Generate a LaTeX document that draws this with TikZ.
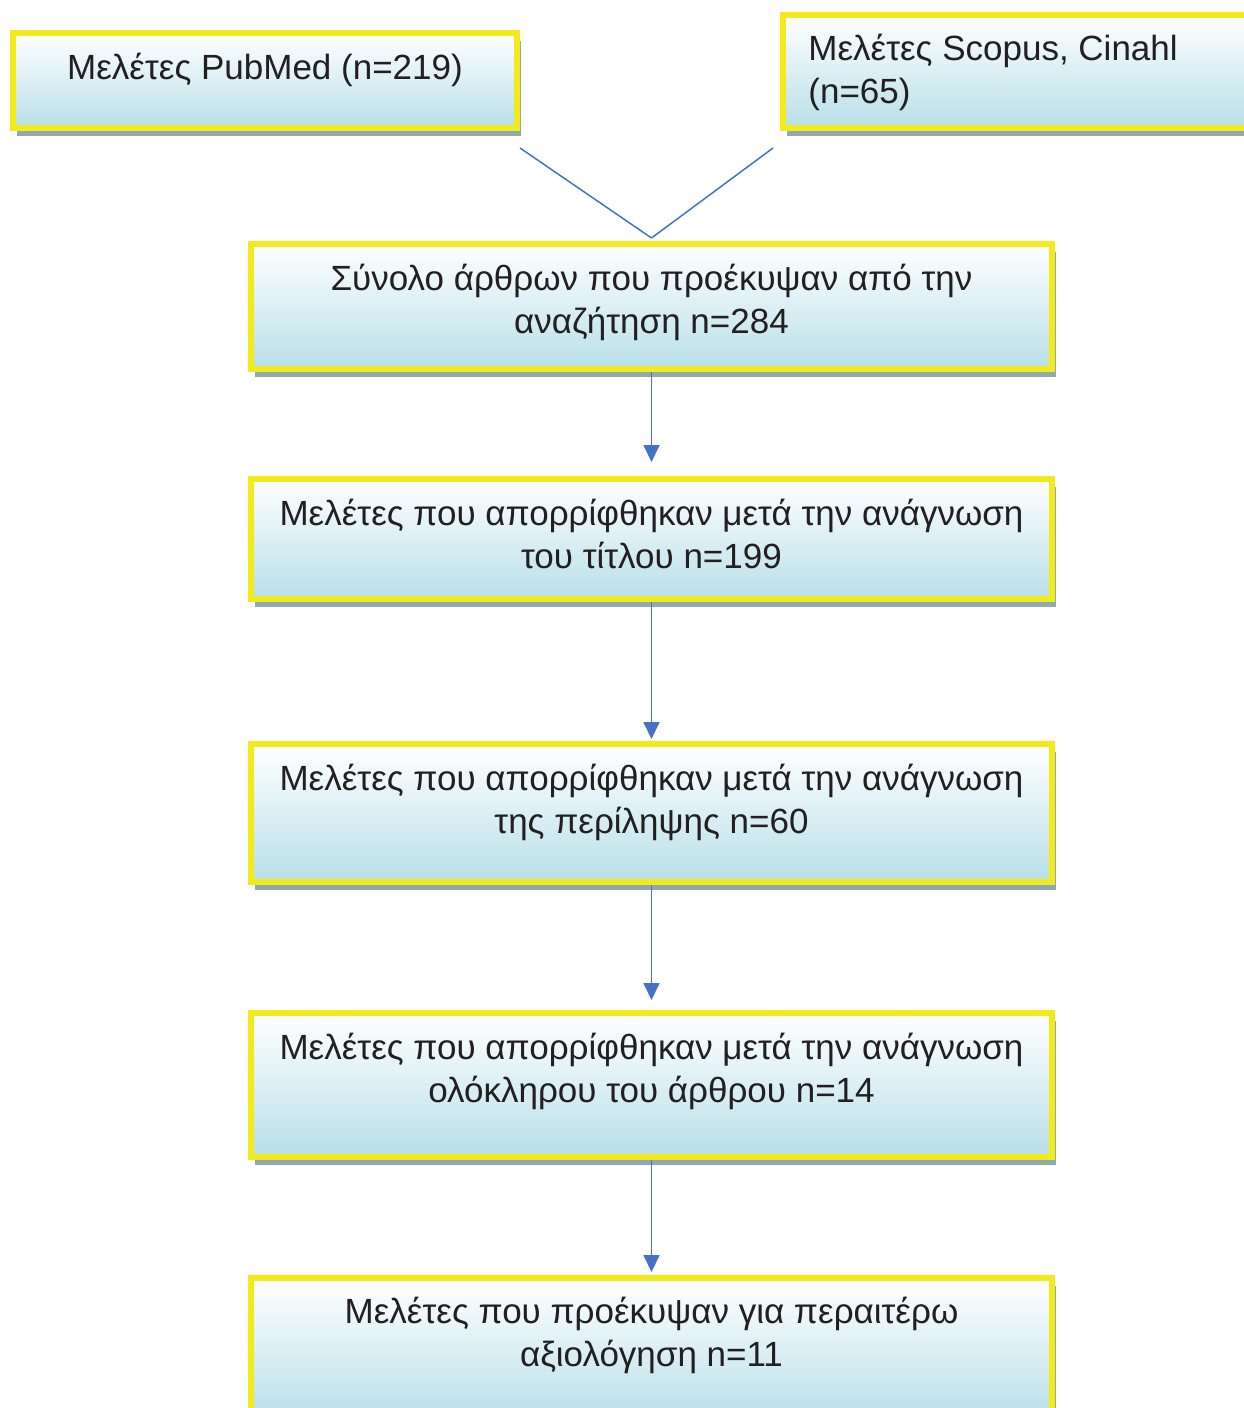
\documentclass[tikz,border=0pt]{standalone}
\usepackage{fontspec}
\setmainfont{Liberation Sans}
\usepackage{tikz}
\usetikzlibrary{shadows}
\usetikzlibrary{arrows.meta}

\definecolor{boxyellow}{HTML}{F2EA1A}
\definecolor{boxblue}{HTML}{B8DFE9}
\definecolor{shadowgrey}{HTML}{8FA9B2}
\definecolor{linkblue}{HTML}{4472C4}
\definecolor{textgrey}{HTML}{231F20}

\begin{document}
\begin{tikzpicture}[x=0.5pt,y=-0.5pt]

\tikzset{box/.style = {rectangle,draw=boxyellow,line width=3pt,inner sep=0pt,
  top color=white,bottom color=boxblue,
  drop shadow={shadow xshift=2pt,shadow yshift=-4pt,fill=shadowgrey,opacity=1}}}
\tikzset{txt/.style = {font=\fontsize{17.5}{21.5}\selectfont,text=textgrey,align=center,anchor=base,inner sep=0pt}}
\tikzset{edge/.style = {draw=linkblue,line width=0.9pt,-{Triangle[width=8pt,length=8.5pt]}}}

\useasboundingbox (0,0) rectangle (1243,1408);

% boxes
\node[box,minimum width=252pt,minimum height=47.5pt] (pubmed) at (265,80.5) {};
\node[box,minimum width=238.5pt,minimum height=56.5pt] (scopus) at (1021.5,71.5) {};
\node[box,minimum width=400.5pt,minimum height=62.5pt] (total) at (651.5,306.5) {};
\node[box,minimum width=400.5pt,minimum height=60pt] (title) at (651.5,539) {};
\node[box,minimum width=400.5pt,minimum height=69pt] (abstract) at (651.5,813) {};
\node[box,minimum width=400.5pt,minimum height=72pt] (fulltext) at (651.5,1085) {};
\node[box,minimum width=400.5pt,minimum height=71pt] (final) at (651.5,1349) {};

% texts (base = last line)
\node[txt] (tpubmed) at (265,79) {Μελέτες PubMed (n=219)};
\node[txt,align=left,anchor=base west] (tscopus) at (808,103) {Μελέτες Scopus, Cinahl\\(n=65)};
\node[txt] (ttotal) at (651.5,333) {Σύνολο άρθρων που προέκυψαν από την\\αναζήτηση n=284};
\node[txt] (ttitle) at (651.5,568) {Μελέτες που απορρίφθηκαν μετά την ανάγνωση\\του τίτλου n=199};
\node[txt] (tabstract) at (651.5,833) {Μελέτες που απορρίφθηκαν μετά την ανάγνωση\\της περίληψης n=60};
\node[txt] (tfulltext) at (651.5,1102) {Μελέτες που απορρίφθηκαν μετά την ανάγνωση\\ολόκληρου του άρθρου n=14};
\node[txt] (tfinal) at (651.5,1366) {Μελέτες που προέκυψαν για περαιτέρω\\αξιολόγηση n=11};

% connectors
\draw[draw=linkblue,line width=0.75pt] ([yshift=-8.5pt]pubmed.south east) -- ([yshift=1.5pt]total.north);
\draw[draw=linkblue,line width=0.75pt] ([xshift=-3.5pt,yshift=-8.5pt]scopus.south west) -- ([yshift=1.5pt]total.north);
\draw[edge,shorten >=7pt] (total.south) -- (title.north);
\draw[edge,shorten >=1pt] (title.south) -- (abstract.north);
\draw[edge,shorten >=5pt] (abstract.south) -- (fulltext.north);
\draw[edge,shorten >=1.5pt] (fulltext.south) -- (final.north);

\end{tikzpicture}
\end{document}
